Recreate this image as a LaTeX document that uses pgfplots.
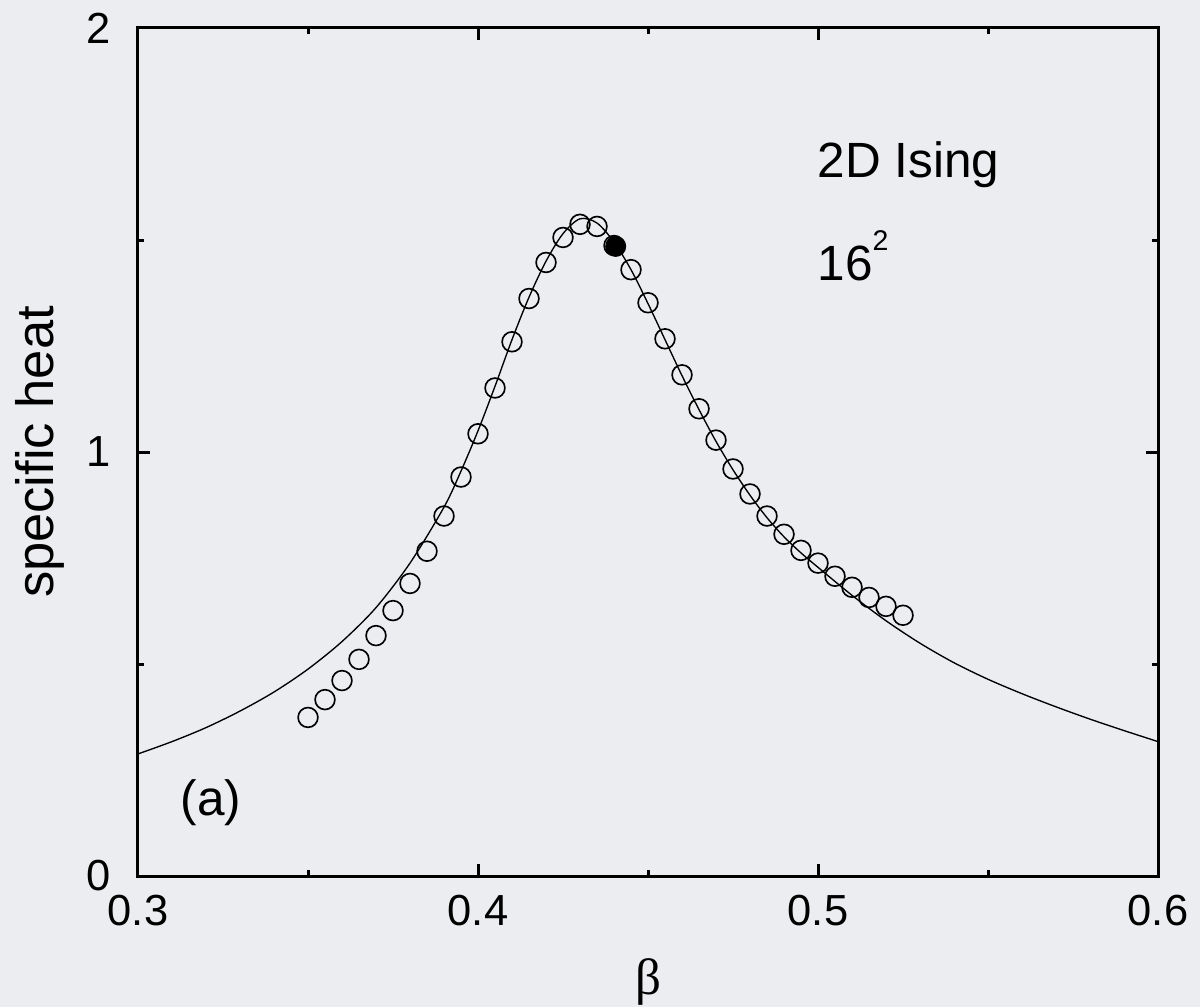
\documentclass[border=0pt]{standalone}
\usepackage{fontspec}
\setmainfont{Liberation Sans}
\newfontfamily\seriffont{Liberation Serif}
\usepackage{pgfplots}
\pgfplotsset{compat=1.18}
\usetikzlibrary{backgrounds}
\definecolor{bg}{RGB}{236,237,240}

\begin{document}
\begin{tikzpicture}
\begin{axis}[
  scale only axis, width=340pt, height=282.67pt,
  xmin=0.3, xmax=0.6, ymin=0, ymax=2,
  xtick={0.3,0.4,0.5,0.6}, minor xtick={0.35,0.45,0.55},
  ytick={0,1,2}, minor ytick={0.5,1.5},
  xticklabels={0.3,0.4,0.5,0.6}, yticklabels={0,1,2},
  tick align=inside,
  major tick length=4pt, minor tick length=2pt,
  axis line style={line width=1pt},
  tick style={line width=1pt, black},
  tick label style={font=\fontsize{14.5}{16}\selectfont},
  xticklabel style={yshift=-3pt},
  yticklabel style={xshift=-5.5pt},
  xlabel={{\seriffont\fontsize{17}{19}\selectfont β}},
  xlabel style={at={(axis description cs:0.5,-0.1400)}, anchor=base},
  ylabel={\fontsize{17.5}{20}\selectfont specific heat},
  ylabel style={at={(axis description cs:-0.0833,0.5)}, anchor=base},
]
% fitted curve
\addplot[smooth, line width=0.45pt, black] coordinates {
(0.300,0.288) (0.310,0.317) (0.320,0.350) (0.330,0.389) (0.340,0.434)
(0.350,0.488) (0.360,0.553) (0.370,0.633) (0.380,0.738) (0.390,0.870)
(0.395,0.955) (0.400,1.050) (0.405,1.155) (0.410,1.265) (0.415,1.365)
(0.420,1.450) (0.425,1.515) (0.430,1.550) (0.435,1.540) (0.440,1.495)
(0.445,1.430) (0.450,1.350) (0.455,1.265) (0.460,1.180) (0.465,1.100)
(0.470,1.025) (0.475,0.958) (0.480,0.898) (0.485,0.845) (0.490,0.800)
(0.495,0.762) (0.500,0.728) (0.510,0.662) (0.520,0.602) (0.530,0.549)
(0.540,0.503) (0.550,0.464) (0.560,0.430) (0.570,0.399) (0.580,0.370)
(0.590,0.343) (0.600,0.317)
};
% data points
\addplot[only marks, mark=o, mark size=3.3pt, mark options={line width=0.55pt, black}] coordinates {
(0.350,0.374) (0.355,0.416) (0.360,0.461) (0.365,0.511) (0.370,0.567)
(0.375,0.626) (0.380,0.690) (0.385,0.766) (0.390,0.849) (0.395,0.941)
(0.400,1.043) (0.405,1.151) (0.410,1.260) (0.415,1.362) (0.420,1.447)
(0.425,1.506) (0.430,1.537) (0.435,1.532) (0.440,1.487) (0.445,1.430)
(0.450,1.352) (0.455,1.267) (0.460,1.182) (0.465,1.102) (0.470,1.028)
(0.475,0.960) (0.480,0.901) (0.485,0.849) (0.490,0.806) (0.495,0.768)
(0.500,0.738) (0.505,0.707) (0.510,0.681) (0.515,0.657) (0.520,0.636)
(0.525,0.615)
};
\addplot[only marks, mark=*, mark size=3.3pt, mark options={black, fill=black}] coordinates {(0.4405,1.485)};
\node[anchor=base west, inner sep=0pt, font=\fontsize{16.5}{19}\selectfont] at (axis cs:0.4997,1.648) {2D Ising};
\node[anchor=base west, inner sep=0pt, font=\fontsize{16.5}{19}\selectfont] at (axis cs:0.4997,1.404) {16\raisebox{10pt}{\fontsize{9.5}{10}\selectfont 2}};
\node[anchor=center, inner sep=0pt, font=\fontsize{16.5}{19}\selectfont] at (axis cs:0.3215,0.173) {(a)};
\end{axis}
\begin{scope}[on background layer]
\fill[bg] ([shift={(-46pt,-43.67pt)}]current axis.south west) rectangle ([shift={(14pt,9.33pt)}]current axis.north east);
\end{scope}
\pgfresetboundingbox
\path ([shift={(-46pt,-43.67pt)}]current axis.south west) rectangle ([shift={(14pt,9.33pt)}]current axis.north east);
\end{tikzpicture}
\end{document}
